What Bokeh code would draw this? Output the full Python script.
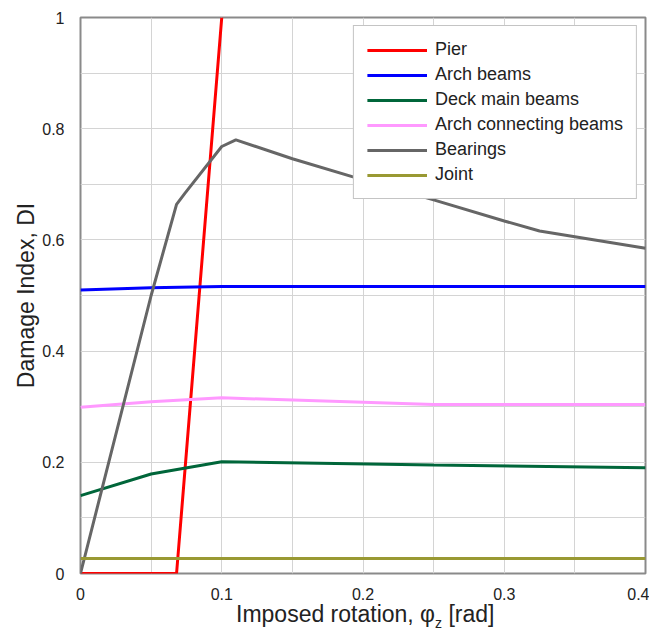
from bokeh.plotting import figure
from bokeh.models import FixedTicker, Range1d, Div
from bokeh.layouts import column
from bokeh.embed import file_html
from bokeh.resources import INLINE

# ---- data ----
pier_x = [0.0, 0.068, 0.1]
pier_y = [0.0, 0.0, 1.0]
arch_x = [0.0, 0.05, 0.1, 0.4]
arch_y = [0.51, 0.514, 0.516, 0.516]
deck_x = [0.0, 0.05, 0.1, 0.25, 0.4]
deck_y = [0.14, 0.179, 0.201, 0.195, 0.19]
conn_x = [0.0, 0.05, 0.1, 0.25, 0.4]
conn_y = [0.299, 0.309, 0.316, 0.304, 0.304]
bear_x = [0.0, 0.05, 0.068, 0.074, 0.1, 0.11, 0.15, 0.2, 0.25, 0.3, 0.325, 0.4]
bear_y = [0.0, 0.5, 0.664, 0.684, 0.768, 0.78, 0.746, 0.708, 0.672, 0.634, 0.616, 0.585]
joint_x = [0.0, 0.4]
joint_y = [0.027, 0.027]

series_names = ["Pier", "Arch beams", "Deck main beams", "Arch connecting beams", "Bearings", "Joint"]
series_colors = ["#ff0000", "#0000ff", "#00663a", "#ff99ff", "#666666", "#999933"]

x_ticks = [0.0, 0.1, 0.2, 0.3, 0.4]
x_tick_labels = ["0", "0.1", "0.2", "0.3", "0.4"]
x_minor = [0.05, 0.15, 0.25, 0.35]
y_ticks = [0.0, 0.2, 0.4, 0.6, 0.8, 1.0]
y_tick_labels = ["0", "0.2", "0.4", "0.6", "0.8", "1"]
y_minor = [0.1, 0.3, 0.5, 0.7, 0.9]

FONT = "Liberation Sans"
GRID = "#d4d4d4"
FRAME = "#8a8a8a"
TXT = "#222222"

p = figure(width=649, height=602, output_backend="svg", toolbar_location=None,
           x_range=Range1d(0, 0.4), y_range=Range1d(0, 1),
           min_border_left=80, min_border_right=4, min_border_top=17, min_border_bottom=24)

xs = [pier_x, arch_x, deck_x, conn_x, bear_x, joint_x]
ys = [pier_y, arch_y, deck_y, conn_y, bear_y, joint_y]
for x, y, name, col in zip(xs, ys, series_names, series_colors):
    p.line(x, y, line_color=col, line_width=3, legend_label=name)

p.xaxis.ticker = FixedTicker(ticks=x_ticks, minor_ticks=x_minor)
p.yaxis.ticker = FixedTicker(ticks=y_ticks, minor_ticks=y_minor)
p.xaxis.major_label_overrides = dict(zip(x_ticks, x_tick_labels))
p.yaxis.major_label_overrides = dict(zip(y_ticks, y_tick_labels))

for ax in (p.xaxis, p.yaxis):
    ax.axis_line_color = None
    ax.major_tick_line_color = None
    ax.minor_tick_line_color = None
    ax.major_label_text_font = FONT
    ax.major_label_text_font_size = "16px"
    ax.major_label_text_color = TXT
p.yaxis.major_label_standoff = 10
p.xaxis.major_label_standoff = 8

p.yaxis.axis_label = "Damage Index, DI"
p.yaxis.axis_label_text_font = FONT
p.yaxis.axis_label_text_font_size = "23px"
p.yaxis.axis_label_text_font_style = "normal"
p.yaxis.axis_label_text_color = TXT
p.yaxis.axis_label_standoff = 0

for g in (p.xgrid, p.ygrid):
    g.grid_line_color = GRID
    g.grid_line_width = 1
    g.minor_grid_line_color = GRID
    g.minor_grid_line_width = 1

p.outline_line_color = FRAME
p.outline_line_width = 2

lg = p.legend[0]
lg.location = "top_right"
lg.margin = 8
lg.padding = 13
lg.spacing = 4
lg.glyph_width = 60
lg.glyph_height = 20
lg.label_height = 20
lg.label_standoff = 8
lg.label_text_font = FONT
lg.label_text_font_size = "18px"
lg.label_text_color = TXT
lg.border_line_color = FRAME
lg.border_line_width = 1.5
lg.background_fill_alpha = 1.0

# x-axis title with a real subscript
xlabel = Div(
    text=('<div style="font-family:\'Liberation Sans\';font-size:23px;line-height:25px;'
          'color:#222222;padding-left:236px;white-space:nowrap;">'
          'Imposed rotation, φ<sub style="font-size:14px;line-height:0;">z</sub> [rad]</div>'),
    width=649, height=25, margin=(0, 0, 0, 0))

layout = column(p, xlabel, spacing=0)
open("out.html", "w").write(file_html(layout, INLINE))
